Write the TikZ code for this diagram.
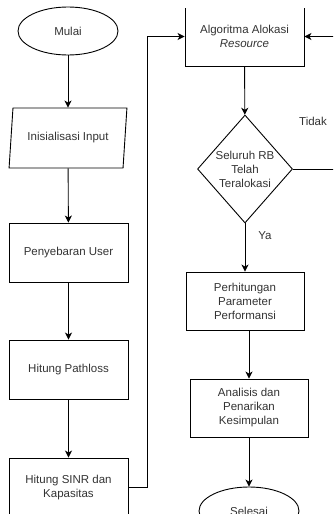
\documentclass[tikz,border=0pt]{standalone}
\usepackage{fontspec}
\setmainfont{Liberation Sans}
\usetikzlibrary{shapes.geometric,arrows.meta}
\tikzset{
  box/.style = {rectangle, draw, minimum width=#1, minimum height=59pt,
                inner sep=1pt, align=center, text=black!80},
  box/.default = 119pt,
  term/.style = {ellipse, draw, minimum width=100pt, minimum height=48pt,
                inner sep=0pt, text=black!80},
  io/.style = {trapezium, trapezium left angle=75, trapezium right angle=105,
                trapezium stretches=true, draw, minimum width=118pt,
                minimum height=60pt, inner sep=0pt, text=black!80},
  cond/.style = {diamond, draw, minimum width=95pt, minimum height=108pt,
                inner sep=-3pt, align=center, text=black!80},
  arr/.style = {-{Stealth[length=7pt,width=7pt,inset=2pt]}}
}

\begin{document}
\begin{tikzpicture}[x=1pt, y=-1pt, line width=0.9pt,
    every node/.style={font=\fontsize{11.5}{14}\selectfont}]
	\useasboundingbox (0,0) rectangle (333,514);
	\clip (0,0) rectangle (333,514);
	
	% Left column
	\node[term] (mulai) at (68,31) {Mulai};
	\node[io] (input) at (68,138) {Inisialisasi Input};
	\node[box] (user) at (68.5,252.5) {Penyebaran User};
	\node[box] (pathloss) at (68.5,369.5) {Hitung Pathloss};
	\node[box] (sinr) at (68.5,487.5) {Hitung SINR dan\\Kapasitas};
	
	% Right column (top of the first box is cut off)
	\begin{scope}
		\clip (0,8.3) rectangle (333,514);
		\node[box] (algo) at (244.5,36.5) {Algoritma Alokasi\\\textit{Resource}};
	\end{scope}
	\node[cond] (cek) at (245,169) {Seluruh RB\\Telah\\Teralokasi};
	\node[box=118pt, minimum height=58pt] (perf) at (245,301) {Perhitungan\\Parameter\\Performansi};
	\node[box=118pt, minimum height=58pt] (anal) at (249,408) {Analisis dan\\Penarikan\\Kesimpulan};
	\node[term] (selesai) at (249,511) {Selesai};
	
	% Labels
	\node[text=black!80] (tidak) at (313,121) {Tidak};
	\node[text=black!80] (ya) at (265,236) {Ya};
	
	% Arrows
	\draw[arr] (mulai) -- (input);
	\draw[arr] (input) -- (user);
	\draw[arr] (user) -- (pathloss);
	\draw[arr] (pathloss) -- (sinr);
	\draw[arr] (sinr.east) -- ++(19,0) |- (algo.west);
	\draw[arr] (algo) -- (cek);
	\draw[arr] (cek.south) -- (cek.south |- perf.north);
	\draw[arr] (perf.south -| anal.north) -- (anal.north);
	\draw[arr] (anal) -- (selesai);
	\draw[arr] (cek.east) -- ++(60,0) |- (algo.east);
	
\end{tikzpicture}
\end{document}
